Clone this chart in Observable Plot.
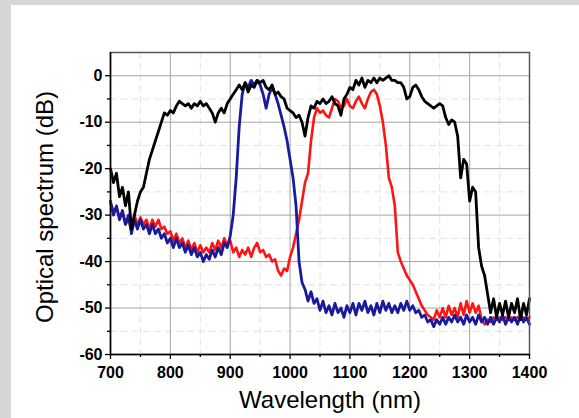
<!DOCTYPE html>
<html><head><meta charset="utf-8">
<script src="https://cdn.jsdelivr.net/npm/d3@7"></script>
<script src="https://cdn.jsdelivr.net/npm/@observablehq/plot@0.6"></script>
<style>
html,body{margin:0;padding:0;background:#d6d6d6;width:579px;height:418px;overflow:hidden}
#panel{position:absolute;left:11px;top:5px;width:568px;height:413px;background:#fff}
</style></head><body><div id="panel"></div>
<script>
const wavelength = [700,705,710,715,720,725,730,735,740,745,750,755,760,765,770,775,780,785,790,795,
800,805,810,815,820,825,830,835,840,845,850,855,860,865,870,875,880,885,890,895,
900,905,910,915,920,925,930,935,940,945,950,955,960,965,970,975,980,985,990,995,
1000,1005,1010,1015,1020,1025,1030,1035,1040,1045,1050,1055,1060,1065,1070,1075,1080,1085,1090,1095,
1100,1105,1110,1115,1120,1125,1130,1135,1140,1145,1150,1155,1160,1165,1170,1175,1180,1185,1190,1195,
1200,1205,1210,1215,1220,1225,1230,1235,1240,1245,1250,1255,1260,1265,1270,1275,1280,1285,1290,1295,
1300,1305,1310,1315,1320,1325,1330,1335,1340,1345,1350,1355,1360,1365,1370,1375,1380,1385,1390,1395,1400];

const blackSpectrum = [-20,-23,-21,-26,-24,-28,-25,-33,-30,-27,-25,-24,-21,-18,-16,-14,-12,-10,-8,-8.5,
-7.5,-8,-6.5,-5.5,-6,-6.5,-6,-7,-6,-6.5,-5.5,-6.5,-6,-7,-8,-10,-8,-7,-8,-6,
-5,-4,-3,-2,-3,-1.5,-3.5,-2,-2.5,-1,-1.5,-1,-2.5,-3,-2,-4,-3.5,-4.5,-5,-7,
-7.5,-8,-9,-8.5,-10,-13,-9,-6.5,-7,-5.5,-6,-5,-6,-5.5,-4.5,-6,-6.5,-8.5,-5,-4,
-2.5,-3,-1,-2,-0.5,-2.5,-1,-1.5,-0.5,-1.5,-0.5,-1,-0.5,0,-1,-1,-1.5,-1.5,-2.5,-5,
-4.5,-2.5,-2,-3,-4.5,-5.5,-6,-6.5,-7,-6.5,-6,-6.5,-9,-10.5,-9.5,-10,-13,-22,-18,-19,
-27,-24,-25,-37,-41,-43,-47,-51,-48,-52,-49,-51.5,-48.5,-52,-49,-51,-48,-52.5,-49,-51.5,-48];

const blueSpectrum = [-27,-30,-28,-31,-29,-32,-30,-34,-31,-33,-31,-33,-32,-34,-32,-34,-33,-35,-34,-36,
-35,-37,-35,-37,-36,-38,-36.5,-38.5,-37,-39,-38,-40,-38.5,-39.5,-37.5,-39,-37,-38.5,-36,-37,
-34.5,-30,-22,-11,-4,-1.5,-2.5,-1,-2,-1,-2,-4,-7,-4,-2.5,-4,-6,-8.5,-11,-14,
-18,-22,-28,-40,-44.5,-46,-48.5,-46.5,-49,-48,-50.5,-48.5,-51,-49.5,-51.5,-49,-51,-50,-52,-49.5,
-51,-49,-51.5,-49,-50.5,-48.5,-51,-49.5,-51.5,-49,-51,-48.5,-50.5,-49,-51,-49.5,-51,-49,-50.5,-48.5,
-50.5,-49.5,-51,-50.5,-52,-51.5,-53,-52.5,-54,-52.5,-53.5,-52,-53.5,-52,-53,-51.5,-53,-52,-53.5,-51.5,
-53,-52,-53.5,-51.5,-53,-52,-53.5,-52,-53.5,-52,-53,-51.5,-53.5,-52,-53,-52,-53.5,-51.5,-53,-52,-53.5];

const redSpectrum = [-27.5,-29,-28.5,-30.5,-29.5,-32,-31,-33,-30,-32,-30.5,-32,-31,-33,-31,-32.5,-31,-33,-32.5,-34,
-33.5,-35.5,-34,-36,-35,-37,-35.5,-37.5,-36,-38,-36.5,-38,-37,-38,-36,-37.5,-35.5,-37,-35,-36.5,
-35.5,-38,-37,-39,-37.5,-38.5,-37,-39,-37,-36,-38,-37.5,-39,-38.5,-40,-39.5,-42,-43,-41.5,-42,
-39,-37,-34,-31,-27,-23,-21,-14,-9,-7,-8,-7.5,-8.5,-9,-7,-5,-5.5,-7,-6.5,-5,
-6.5,-7,-5.5,-4.5,-6,-7,-5,-3.5,-3,-4,-6.5,-10,-15,-22,-24,-28,-38,-40,-41.5,-43,
-44,-45,-46.5,-48,-49.5,-50.5,-51.5,-52,-52.5,-50.5,-52,-50,-52,-49.5,-51.5,-50,-52,-49,-51.5,-48.5,
-51,-49,-51,-49.5,-52.5,-53.5,-52.5,-53,-52,-52.5,-52,-52.5,-52,-52.5,-52,-52.5,-52,-52.5,-52,-52.5,-52];

const xTicks = [700,800,900,1000,1100,1200,1300,1400];
const xMinor = [750,850,950,1050,1150,1250,1350];
const yTicks = [0,-10,-20,-30,-40,-50,-60];
const yMinor = [-5,-15,-25,-35,-45,-55];
const xTitle = "Wavelength (nm)";
const yTitle = "Optical spectrum (dB)";

const rows = s => wavelength.map((w, i) => ({w, v: s[i]}));
const fmt = d => String(d);

const chart = Plot.plot({
  width: 568, height: 413,
  marginLeft: 99, marginTop: 47, marginRight: 50, marginBottom: 64,
  style: {fontFamily: "'Liberation Sans', Arial, sans-serif", background: "#fff", overflow: "visible", color: "#000"},
  x: {domain: [700, 1400]},
  y: {domain: [-60, 5]},
  marks: [
    Plot.gridX(xMinor, {stroke: "#e2e2e2", strokeOpacity: 1, strokeDasharray: "7,4"}),
    Plot.gridY(yMinor, {stroke: "#e2e2e2", strokeOpacity: 1, strokeDasharray: "7,4"}),
    Plot.gridX(xTicks.slice(1, -1), {stroke: "#a4a4a4", strokeOpacity: 1}),
    Plot.gridY(yTicks.slice(0, -1), {stroke: "#a4a4a4", strokeOpacity: 1}),
    Plot.line(rows(redSpectrum), {x: "w", y: "v", stroke: "#ff1414", strokeWidth: 2.6, strokeLinejoin: "round"}),
    Plot.line(rows(blueSpectrum), {x: "w", y: "v", stroke: "#1a1a9c", strokeWidth: 2.8, strokeLinejoin: "round"}),
    Plot.line(rows(blackSpectrum), {x: "w", y: "v", stroke: "#000", strokeWidth: 2.8, strokeLinejoin: "round"}),
    Plot.frame({stroke: "#555", strokeWidth: 1.5}),
    Plot.ruleX([700], {stroke: "#000", strokeWidth: 1.5}),
    Plot.ruleY([-60], {stroke: "#000", strokeWidth: 1.5}),
    Plot.axisX(xTicks, {tickSize: 5, tickPadding: 7, fontSize: 16, fontWeight: "bold", tickFormat: fmt, label: null, strokeWidth: 1.3}),
    Plot.axisX(xMinor, {tickSize: 3, tickFormat: () => "", label: null, strokeWidth: 1.3}),
    Plot.axisY(yTicks, {tickSize: 5, tickPadding: 3, fontSize: 16, fontWeight: "bold", tickFormat: fmt, label: null, strokeWidth: 1.3}),
    Plot.axisY(yMinor, {tickSize: 3, tickFormat: () => "", label: null, strokeWidth: 1.3}),
    Plot.text([xTitle], {text: d => d, frameAnchor: "bottom", dx: 10, dy: 53, fontSize: 24, lineAnchor: "bottom", textAnchor: "middle"}),
    Plot.text([yTitle], {text: d => d, frameAnchor: "left", rotate: -90, dx: -57.5, dy: 3.5, fontSize: 24, lineAnchor: "bottom", textAnchor: "middle"})
  ]
});
document.getElementById("panel").appendChild(chart);
</script></body></html>
